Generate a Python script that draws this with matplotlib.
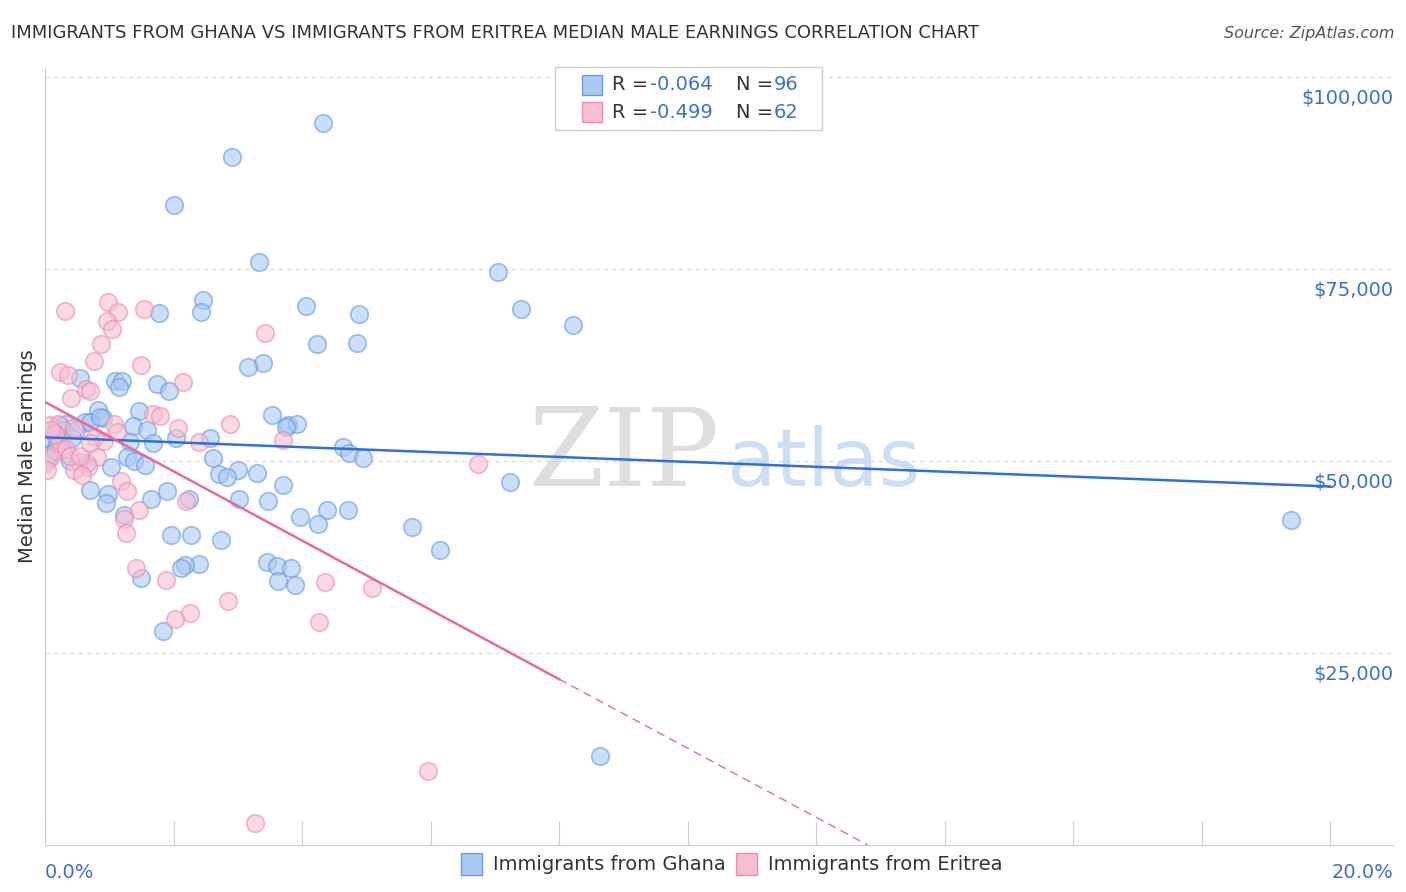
import matplotlib.pyplot as plt
import numpy as np

# Immigrants from Ghana (x = %, y = median male earnings)
ghana_x = [4.33, 2.91, 2.01, 3.33, 7.05, 2.46, 4.06, 7.41, 1.77, 2.43, 4.89, 8.22, 4.23, 4.86,
           3.39, 3.16, 0.54, 1.09, 1.20, 1.74, 1.15, 1.93, 0.82, 1.46, 3.53, 0.90, 3.78, 3.92,
           0.23, 0.33, 0.62, 1.37, 3.75, 1.59, 0.14, 0.48, 2.04, 2.57, 0.11, 0.19, 1.32, 1.68,
           4.64, 4.73, 4.95, 1.28, 2.62, 1.39, 1.56, 0.65, 1.03, 3.00, 3.30, 2.71, 2.83, 7.24,
           3.70, 0.70, 1.90, 0.98, 1.65, 2.24, 3.02, 3.47, 0.95, 4.39, 4.72, 3.97, 1.23, 4.25,
           5.71, 19.39, 1.96, 2.27, 2.74, 6.15, 3.46, 3.61, 2.40, 2.18, 2.12, 3.83, 1.49, 3.63,
           3.89, 1.84, 8.64, 0.08, 0.05, 0.16, 0.39, 0.70, 0.86, 0.28, 0.20, 0.42]
ghana_y = [94000, 89600, 83300, 76000, 74600, 71000, 70200, 69800, 69300, 69400, 69100, 67700,
           65200, 65400, 62800, 62200, 60800, 60500, 60500, 60000, 59600, 59100, 56600, 56500,
           56000, 55600, 54700, 54800, 54700, 54800, 55100, 54600, 54400, 54000, 53800, 54000,
           53000, 53000, 52700, 52300, 52500, 52300, 51900, 51000, 50400, 50500, 50400, 50000,
           49500, 49700, 49200, 48900, 48400, 48300, 47900, 47300, 46900, 46200, 46100, 45700,
           45100, 45100, 45100, 44800, 44500, 43600, 43600, 42700, 43000, 41800, 41400, 42300,
           40400, 40400, 39700, 38400, 36800, 36300, 36600, 36500, 36100, 36100, 34800, 34400,
           33900, 27900, 11600, 50900, 50300, 51300, 50000, 55100, 55800, 54000, 53300, 53000]

# Immigrants from Eritrea
eritrea_x = [0.31, 0.98, 1.54, 1.14, 0.96, 1.04, 3.42, 0.87, 0.76, 1.49, 0.23, 0.36, 2.15, 0.64,
             0.70, 0.40, 1.68, 1.79, 2.88, 1.07, 0.08, 0.20, 0.45, 2.07, 1.12, 0.78, 0.92, 2.40,
             3.70, 0.26, 0.81, 0.00, 0.53, 0.67, 6.74, 0.45, 0.58, 1.18, 1.28, 2.20, 1.46, 1.23,
             1.26, 1.42, 1.88, 4.36, 5.09, 2.85, 2.26, 2.02, 4.26, 5.96, 3.27, 0.11, 0.03, 0.23,
             0.33, 0.16, 0.39, 0.54, 0.70, 0.10]
eritrea_y = [69500, 70700, 69800, 69400, 68200, 67200, 66700, 65200, 63000, 62500, 61600, 61200,
             60300, 59400, 59100, 58200, 56100, 55900, 54900, 54900, 54700, 54900, 54300, 54300,
             53800, 53100, 52600, 52500, 52700, 51600, 50500, 49700, 49900, 49300, 49600, 48800,
             48200, 47400, 46100, 44800, 43600, 42400, 40600, 36100, 34500, 34200, 33500, 31800,
             30200, 29400, 29000, 9600, 2900, 50700, 48800, 52300, 51600, 53500, 50700, 50700,
             52300, 54000]

ticks_y = [25000, 50000, 75000, 100000]
tick_labels_y = ["$25,000", "$50,000", "$75,000", "$100,000"]

blue_edge, blue_fill, blue_line = "#6b9be0", "#a9c8f2", "#2f6fd6"
pink_edge, pink_fill, pink_line = "#ea8fb2", "#f6bfd3", "#e8699a"
label_blue = "#3b6fd4"

fig = plt.figure(figsize=(14.06, 8.92), dpi=100)
ax = fig.add_axes([0.032, 0.0527, 0.959, 0.871])

ax.scatter(ghana_x, ghana_y, s=160, facecolor=blue_fill, edgecolor=blue_edge, alpha=0.6, lw=1.3, zorder=3)
ax.scatter(eritrea_x, eritrea_y, s=160, facecolor=pink_fill, edgecolor=pink_edge, alpha=0.6, lw=1.3, zorder=3)

# trend lines
ax.plot([0, 20], [53100, 46700], color=blue_line, lw=1.8, zorder=4)
ax.plot([0, 8], [57700, 21600], color=pink_line, lw=1.8, zorder=4)
ax.plot([8, 12.8], [21600, 0], color=pink_line, lw=1, ls=(0, (6, 4)), zorder=4)

ax.set_xlim(0, 20.98)
ax.set_ylim(0, 101200)
for v in ticks_y:
    ax.axhline(v, color="#dddddd", lw=1, ls=(0, (3, 3)), zorder=1)
ax.set_yticks([])
for v, t in zip(ticks_y, tick_labels_y):
    ax.text(1.0, v - 1500, t, transform=ax.get_yaxis_transform(), ha="right", va="top",
            color=label_blue, fontsize=14)

ax.set_xticks(np.arange(0, 20.1, 2))
ax.set_xticklabels([""] * 11)
ax.tick_params(axis="x", direction="in", length=17, color="#cccccc")
ax.text(0, -0.035, "0.0%", transform=ax.transAxes, ha="left", va="center", color=label_blue, fontsize=14)
ax.text(1.0, -0.035, "20.0%", transform=ax.transAxes, ha="right", va="center", color=label_blue, fontsize=14)

for s in ["top", "right"]:
    ax.spines[s].set_visible(False)
ax.spines["left"].set_color("#cccccc")
ax.spines["bottom"].set_color("#cccccc")
ax.set_ylabel("Median Male Earnings", fontsize=14, color="#333333", labelpad=6)

# watermark
ax.text(0.5, 0.5, "ZIP", transform=ax.transAxes, fontsize=78, color="#d0d0d0", ha="right",
        va="center", family="DejaVu Serif", alpha=0.7)
ax.text(0.505, 0.49, "atlas", transform=ax.transAxes, fontsize=58, color="#b8cff0", ha="left",
        va="center", alpha=0.7)

fig.text(0.008, 0.963, "IMMIGRANTS FROM GHANA VS IMMIGRANTS FROM ERITREA MEDIAN MALE EARNINGS CORRELATION CHART",
         fontsize=13, color="#333333", va="center")
fig.text(0.992, 0.963, "Source: ZipAtlas.com", fontsize=11.5, color="#555555", style="italic",
         ha="right", va="center")

# top stats legend
box = plt.Rectangle((555 / 1406, 1 - 130 / 892), 267 / 1406, 63 / 892, transform=fig.transFigure,
                    facecolor="white", edgecolor="#cccccc", lw=1, zorder=5)
fig.patches.append(box)
for i, (fc, ec, r, n) in enumerate([(blue_fill, blue_edge, "-0.064", "96"), (pink_fill, pink_edge, "-0.499", "62")]):
    yy = 1 - (85 + 27 * i) / 892
    fig.patches.append(plt.Rectangle((582 / 1406, yy - 0.011), 20 / 1406, 0.022, transform=fig.transFigure,
                                     facecolor=fc, edgecolor=ec, lw=1, zorder=6))
    fig.text(612 / 1406, yy, "R =", fontsize=14, color="#333333", va="center", zorder=7)
    fig.text(650 / 1406, yy, r, fontsize=14, color=label_blue, va="center", zorder=7)
    fig.text(736 / 1406, yy, "N =", fontsize=14, color="#333333", va="center", zorder=7)
    fig.text(774 / 1406, yy, n, fontsize=14, color=label_blue, va="center", zorder=7)

# bottom legend
yb = 1 - 864 / 892
for xs, fc, ec, lab in [(461, blue_fill, blue_edge, "Immigrants from Ghana"),
                        (736, pink_fill, pink_edge, "Immigrants from Eritrea")]:
    fig.patches.append(plt.Rectangle((xs / 1406, yb - 0.012), 21 / 1406, 0.024, transform=fig.transFigure,
                                     facecolor=fc, edgecolor=ec, lw=1))
    fig.text((xs + 32) / 1406, yb, lab, fontsize=14, color="#333333", va="center")

fig.savefig("out.png", dpi=100)
